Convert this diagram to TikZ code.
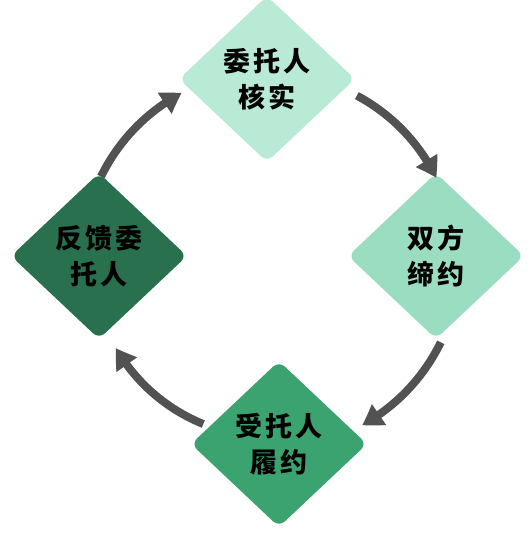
\documentclass[tikz,border=0pt]{standalone}
\usepackage{fontspec}
\newfontfamily\cjk{Noto Sans CJK SC}[LetterSpace=12]
\usetikzlibrary{shapes.geometric,arrows.meta,bending}

\begin{document}
\begin{tikzpicture}[x=1pt, y=1pt,
    box/.style={diamond, rounded corners=8pt, minimum width=176pt, minimum height=166pt,
      inner sep=0pt, align=center, font=\cjk\bfseries\fontsize{27}{36}\selectfont},
    flow/.style={line width=8pt, color=arrowgray, -{Triangle[width=24pt, length=20pt, bend]}}]
  % -------- 共用參數 --------
  \colorlet{arrowgray}{black!68}
  \definecolor{stepone}{RGB}{184,234,214}
  \definecolor{steptwo}{RGB}{155,221,192}
  \definecolor{stepthree}{RGB}{58,163,112}
  \definecolor{stepfour}{RGB}{40,112,78}
  \useasboundingbox (0,0) rectangle (532,542);
  \coordinate (mid) at (270,283);

  % -------- 四個步驟 --------
  \node[box, fill=stepone]   (verify)  at (267,463) {委托人\\核实};
  \node[box, fill=steptwo]   (sign)    at (436,286) {双方\\缔约};
  \node[box, fill=stepthree] (perform) at (279,98)  {受托人\\履约};
  \node[box, fill=stepfour]  (report)  at (99,286)  {反馈委\\托人};

  % -------- 循環箭頭 --------
  \draw[flow] ([shift={(62:185)}]mid) arc[start angle=62, end angle=26, radius=185];
  \draw[flow] ([shift={(-26:190)}]mid) arc[start angle=-26, end angle=-61, radius=190];
  \draw[flow] ([shift={(-112:178)}]mid) arc[start angle=-112, end angle=-150, radius=178];
  \draw[flow] ([shift={(154:188)}]mid) arc[start angle=154, end angle=118, radius=188];
\end{tikzpicture}
\end{document}
